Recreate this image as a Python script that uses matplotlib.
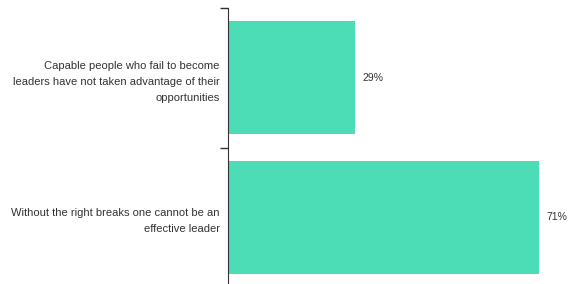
import matplotlib.pyplot as plt
import numpy as np

# data
categories = [
    "Capable people who fail to become\nleaders have not taken advantage of their\nopportunities",
    "Without the right breaks one cannot be an\neffective leader",
]
values = [29, 71]
value_labels = ["29%", "71%"]

plt.rcParams['font.family'] = ['Liberation Sans', 'DejaVu Sans']

fig = plt.figure(figsize=(5.74, 2.84), dpi=100)
ax = fig.add_axes([228 / 574, -3 / 284, 346 / 574, 279 / 284])

ypos = np.arange(len(categories))
ax.barh(ypos, values, height=0.81, color='#4cdcb6')
ax.set_ylim(len(categories) - 0.5, -0.5)
ax.set_xlim(0, 79)

# labels centred in bands, ticks on the band edges
ax.set_yticks(ypos)
ax.set_yticklabels(categories, fontsize=8, color='#333333', linespacing=1.75)
ax.tick_params(axis='y', which='major', length=0, pad=6)
ax.set_yticks(np.arange(len(categories) + 1) - 0.5, minor=True)
ax.tick_params(axis='y', which='minor', length=6, width=1, color='#333333')

ax.set_xticks([])
for side in ['top', 'right', 'bottom']:
    ax.spines[side].set_visible(False)
ax.spines['left'].set_color('#333333')

for y, v, lab in zip(ypos, values, value_labels):
    ax.text(v + 1.6, y, lab, va='center', ha='left', fontsize=7.5, color='#333333')

fig.savefig('out.png', dpi=100)
